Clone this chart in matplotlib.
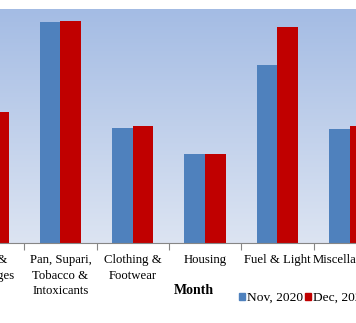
import numpy as np
import matplotlib.pyplot as plt
from matplotlib.patches import Patch

plt.rcParams['font.family'] = ['Liberation Serif', 'DejaVu Serif']

# kategoriler ve iki ayın değerleri
kategoriler = ['Food &\nBeverages', 'Pan, Supari,\nTobacco &\nIntoxicants', 'Clothing &\nFootwear',
               'Housing', 'Fuel & Light', 'Miscellaneous']
nov_2020 = [6.30, 11.05, 5.75, 4.45, 8.90, 5.70]
dec_2020 = [6.55, 11.10, 5.85, 4.45, 10.80, 5.85]
seriler = ['Nov, 2020', 'Dec, 2020']

mavi = '#4f81bd'
kirmizi = '#c00000'

W, H = 356, 323
fig = plt.figure(figsize=(W/100, H/100), dpi=100)

# eksen kırpılmış görünsün diye figürün dışına taşıyorum
sol_px, sag_px = -48.0, 385.9
ust_px, alt_px = 9.0, 243.0
ax = fig.add_axes([sol_px/W, (H-alt_px)/H, (sag_px-sol_px)/W, (alt_px-ust_px)/H])

# gradyan arka plan
ust_renk = np.array([0.643, 0.737, 0.894])
alt_renk = np.array([0.863, 0.894, 0.949])
t = np.linspace(0, 1, 256)[:, None]
grad = (ust_renk*(1-t) + alt_renk*t)[:, None, :]
ax.imshow(grad, extent=[-0.5, 5.5, 0, 11.7], aspect='auto', zorder=0)

x = np.arange(len(kategoriler))
w = 0.285
ax.bar(x - w/2, nov_2020, w, color=mavi, zorder=2, label=seriler[0])
ax.bar(x + w/2, dec_2020, w, color=kirmizi, zorder=2, label=seriler[1])

ax.set_xlim(-0.5, 5.5)
ax.set_ylim(0, 11.7)
ax.set_yticks([])
for s in ['top', 'right', 'left']:
    ax.spines[s].set_visible(False)
ax.spines['bottom'].set_color('#868686')
ax.spines['bottom'].set_linewidth(0.8)

ax.set_xticks(x)
ax.set_xticklabels(kategoriler, fontsize=9.2, linespacing=1.38)
ax.tick_params(axis='x', which='major', length=0, pad=8)
ax.set_xticks(np.arange(-0.5, 5.6, 1), minor=True)
ax.tick_params(axis='x', which='minor', length=5, color='#868686', width=0.8)

fig.text(194/W, 1-290/H, 'Month', ha='center', va='center', fontsize=10, fontweight='bold')

kutular = [Patch(color=mavi), Patch(color=kirmizi)]
fig.legend(kutular, seriler, loc='center left', bbox_to_anchor=(239/W, 1-298/H), ncol=2,
           frameon=False, fontsize=9.7, handlelength=0.45, handleheight=0.45,
           handletextpad=0.15, columnspacing=0.15, borderpad=0, borderaxespad=0)

plt.savefig('out.png', dpi=100, facecolor='white')
